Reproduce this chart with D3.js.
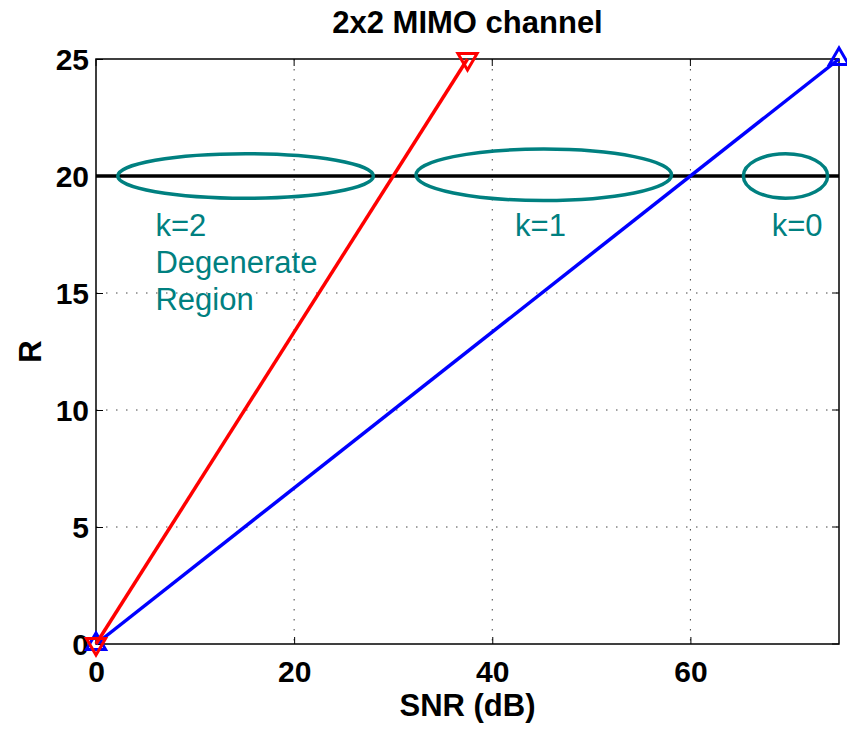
<!DOCTYPE html>
<html>
<head>
<meta charset="utf-8">
<script src="https://cdn.jsdelivr.net/npm/d3@7"></script>
<style>
  body { margin: 0; background: #fff; }
  text { font-family: "Liberation Sans", Arial, sans-serif; }
  .tick text { font-weight: bold; font-size: 30px; }
</style>
</head>
<body>
<svg width="847" height="729"></svg>
<script>
// data
var snrRed = [0, 37.5], rRed = [0, 25];
var snrBlue = [0, 75], rBlue = [0, 25];
var rLevel = 20;
var xTicks = [0, 20, 40, 60];
var yTicks = [0, 5, 10, 15, 20, 25];
// ellipses: centre snr, centre R, half width (dB), half height (R)
var ellCx = [15.1, 45.2, 69.6], ellCy = [20, 20.05, 20], ellRx = [12.9, 12.9, 4.25], ellRy = [0.95, 1.1, 0.95];
var noteText = ["k=2", "Degenerate", "Region", "k=1", "k=0"];
var noteX = [6, 6, 6, 42.3, 68.2];
var noteY = [17.45, 15.85, 14.28, 17.45, 17.45];

var svg = d3.select("svg"),
    margin = {top: 59, right: 8, bottom: 85, left: 96},
    width = +svg.attr("width") - margin.left - margin.right,
    height = +svg.attr("height") - margin.top - margin.bottom;

var x = d3.scaleLinear().domain([0, 75]).range([0, width]);
var y = d3.scaleLinear().domain([0, 25]).range([height, 0]);

var g = svg.append("g").attr("transform", "translate(" + margin.left + "," + margin.top + ")");

// grid
g.selectAll(".gx").data(xTicks.filter(function (d) { return d > 0; })).enter().append("line")
    .attr("x1", x).attr("x2", x).attr("y1", 0).attr("y2", height)
    .attr("stroke", "#444").attr("stroke-width", 1).attr("stroke-dasharray", "1.5,8.5");
g.selectAll(".gy").data(yTicks.filter(function (d) { return d > 0 && d < 25; })).enter().append("line")
    .attr("y1", y).attr("y2", y).attr("x1", 0).attr("x2", width)
    .attr("stroke", "#444").attr("stroke-width", 1).attr("stroke-dasharray", "1.5,8.5");

// axes
var xAxis = g.append("g").attr("transform", "translate(0," + height + ")")
    .call(d3.axisBottom(x).tickValues(xTicks).tickSize(-7));
var yAxis = g.append("g")
    .call(d3.axisLeft(y).tickValues(yTicks).tickSize(-7));
[xAxis, yAxis].forEach(function (a) {
  a.select(".domain").remove();
  a.selectAll("line").attr("stroke", "#000");
  a.selectAll("text").attr("fill", "#000");
});
xAxis.selectAll("text").attr("y", 38).attr("dy", 0);
yAxis.selectAll("text").attr("x", -7).attr("dy", "0.36em");

// top/right ticks
g.selectAll(".tt").data(xTicks).enter().append("line")
    .attr("x1", x).attr("x2", x).attr("y1", 0).attr("y2", 7).attr("stroke", "#000");
g.selectAll(".rt").data(yTicks).enter().append("line")
    .attr("y1", y).attr("y2", y).attr("x1", width).attr("x2", width - 7).attr("stroke", "#000");

// frame
g.append("rect").attr("width", width).attr("height", height)
    .attr("fill", "none").attr("stroke", "#000").attr("stroke-width", 1.5);

// horizontal line R = 20
g.append("line").attr("x1", x(0)).attr("x2", x(75)).attr("y1", y(rLevel)).attr("y2", y(rLevel))
    .attr("stroke", "#000").attr("stroke-width", 3.5);

// ellipses
g.selectAll(".ell").data(ellCx).enter().append("ellipse")
    .attr("cx", function (d) { return x(d); })
    .attr("cy", function (d, i) { return y(ellCy[i]); })
    .attr("rx", function (d, i) { return x(ellRx[i]) - x(0); })
    .attr("ry", function (d, i) { return y(0) - y(ellRy[i]); })
    .attr("fill", "none").attr("stroke", "#008080").attr("stroke-width", 3.5);

// lines
var line = d3.line().x(function (d) { return x(d[0]); }).y(function (d) { return y(d[1]); });
var series = [
  {xs: snrBlue, ys: rBlue, color: "#0000ff", down: false},
  {xs: snrRed, ys: rRed, color: "#ff0000", down: true}
];
series.forEach(function (s) {
  var pts = s.xs.map(function (v, i) { return [v, s.ys[i]]; });
  g.append("path").datum(pts).attr("d", line)
      .attr("fill", "none").attr("stroke", s.color).attr("stroke-width", 3.5);
  g.selectAll(null).data(pts).enter().append("path")
      .attr("d", d3.symbol().type(d3.symbolTriangle).size(160))
      .attr("transform", function (d) {
        return "translate(" + x(d[0]) + "," + y(d[1]) + ")" + (s.down ? " rotate(180)" : "");
      })
      .attr("fill", "none").attr("stroke", s.color).attr("stroke-width", 3);
});

// notes
g.selectAll(".note").data(noteText).enter().append("text")
    .attr("x", function (d, i) { return x(noteX[i]); })
    .attr("y", function (d, i) { return y(noteY[i]); })
    .attr("fill", "#008080").style("font-size", "31px")
    .text(function (d) { return d; });

// labels
svg.append("text").attr("x", margin.left + width / 2).attr("y", 33)
    .attr("text-anchor", "middle").style("font-size", "31px").style("font-weight", "bold")
    .text("2x2 MIMO channel");
svg.append("text").attr("x", margin.left + width / 2).attr("y", 716)
    .attr("text-anchor", "middle").style("font-size", "31px").style("font-weight", "bold")
    .text("SNR (dB)");
svg.append("text").attr("transform", "translate(41," + (margin.top + height / 2) + ") rotate(-90)")
    .attr("text-anchor", "middle").style("font-size", "31px").style("font-weight", "bold")
    .text("R");
</script>
</body>
</html>
